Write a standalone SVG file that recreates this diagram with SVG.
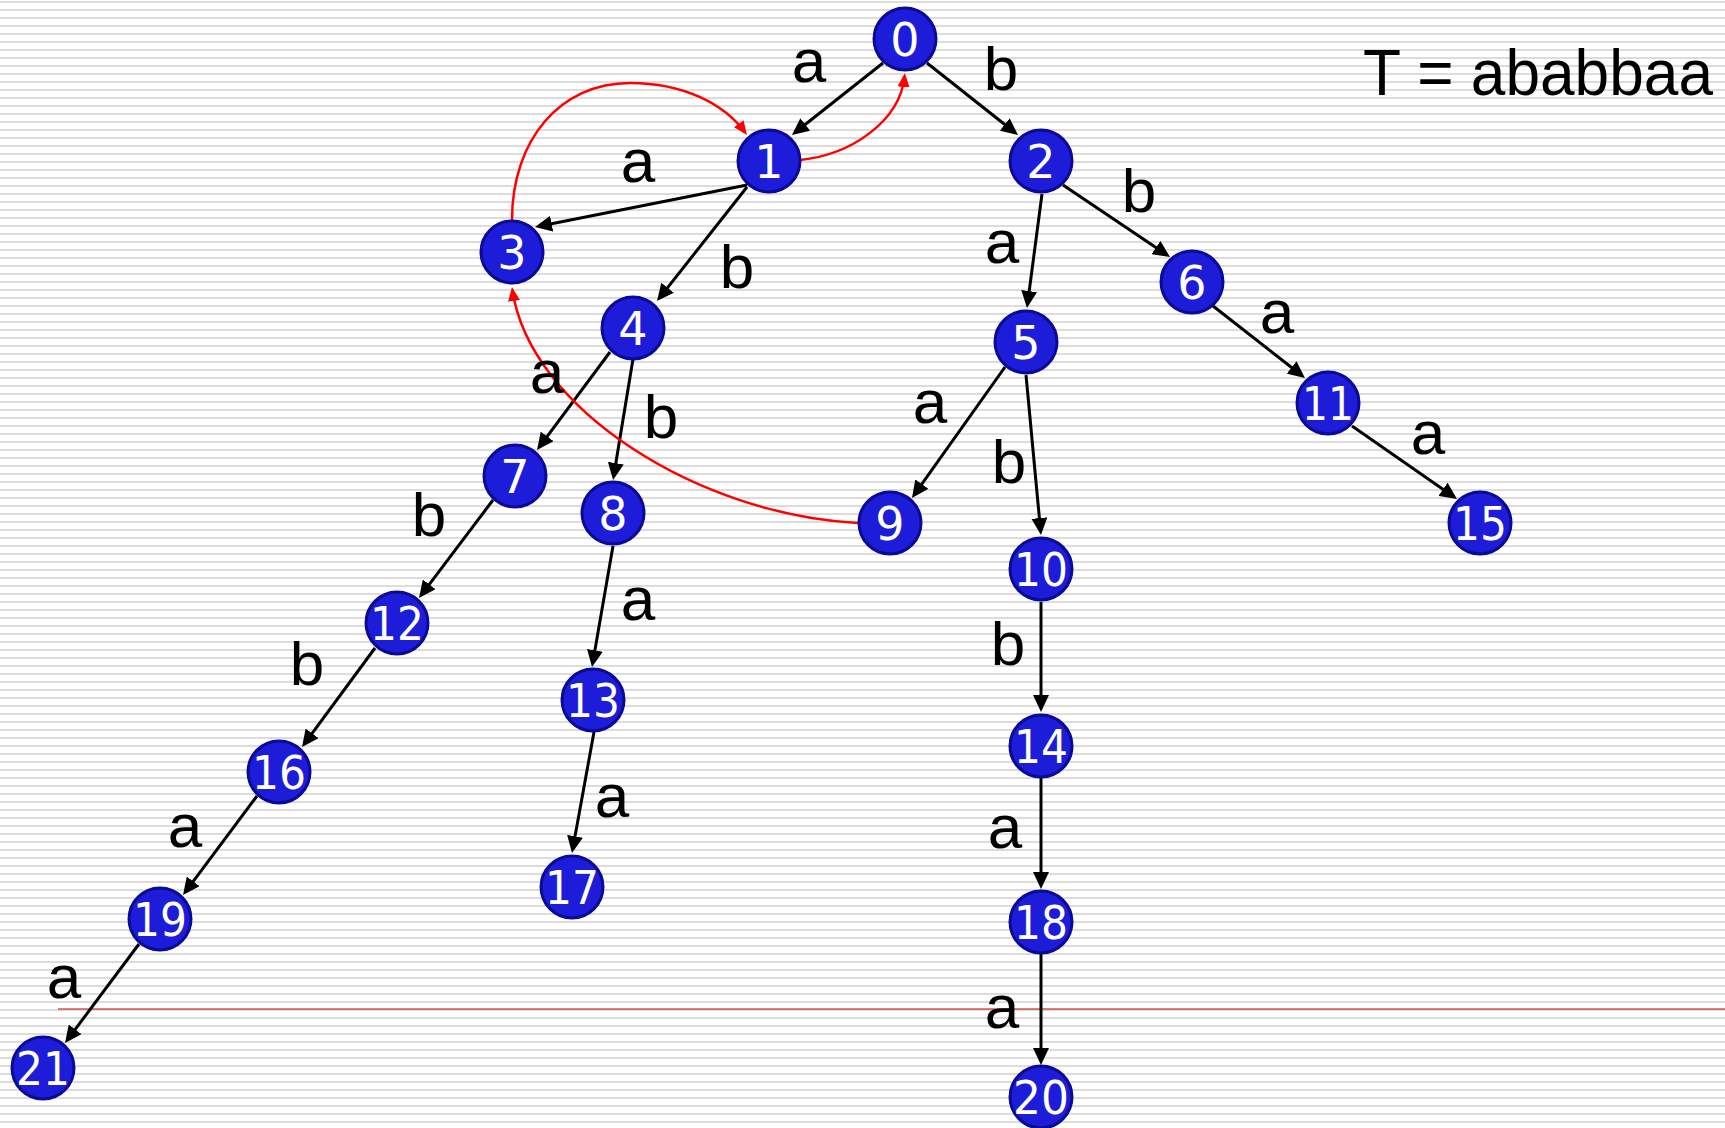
<svg xmlns="http://www.w3.org/2000/svg" width="1725" height="1128" viewBox="0 0 1725 1128">
<style>
.node circle{fill:#1c1cd9;stroke:#0a0a96;stroke-width:3}
.node text{font-family:"DejaVu Sans",Verdana,sans-serif;font-size:46px;fill:#fff;text-anchor:middle}
.e{stroke:#000;stroke-width:3;fill:none;marker-end:url(#ab)}
.r{stroke:#f00;stroke-width:2.5;fill:none;marker-end:url(#ar)}
.lbl{font-family:"Liberation Sans",Arial,sans-serif;font-size:62px;fill:#000;text-anchor:middle}
</style>
<defs>
<pattern id="bg" width="8" height="8" patternUnits="userSpaceOnUse"><rect y="1" width="8" height="2" fill="#dcdcdc"/></pattern>
<marker id="ab" markerUnits="userSpaceOnUse" markerWidth="18" markerHeight="16" refX="13" refY="8" orient="auto"><path d="M0,0 L17,8 L0,16 z" fill="#000"/></marker>
<marker id="ar" markerUnits="userSpaceOnUse" markerWidth="15" markerHeight="13" refX="11" refY="6" orient="auto"><path d="M0,0 L14,6 L0,12 z" fill="#f00"/></marker>
</defs>
<rect width="1725" height="1128" fill="#fff"/>
<rect width="1725" height="1128" fill="url(#bg)"/>
<line x1="58" y1="1009" x2="1725" y2="1009" stroke="#c00000" stroke-width="1.2"/>

<g id="connectors">
<line class="e" x1="883" y1="63" x2="795.1" y2="132.5"/>
<line class="e" x1="927" y1="63" x2="1014.9" y2="132.5"/>
<line class="e" x1="747" y1="185" x2="538.9" y2="226.2"/>
<line class="e" x1="747" y1="187" x2="659.5" y2="297.9"/>
<line class="e" x1="1042" y1="194" x2="1027.5" y2="304"/>
<line class="e" x1="1063" y1="185" x2="1166.7" y2="254.8"/>
<line class="e" x1="1213" y1="306" x2="1301.8" y2="375.5"/>
<line class="e" x1="1352" y1="426" x2="1453.7" y2="496.7"/>
<line class="e" x1="1005" y1="367" x2="914.3" y2="494.7"/>
<line class="e" x1="1026" y1="375" x2="1040.6" y2="531"/>
<line class="e" x1="610" y1="352" x2="539.4" y2="446.8"/>
<line class="e" x1="633" y1="359" x2="613.7" y2="476"/>
<line class="e" x1="493" y1="500" x2="421.4" y2="594.8"/>
<line class="e" x1="613" y1="546" x2="592.7" y2="663.1"/>
<line class="e" x1="375" y1="648" x2="304.4" y2="743.8"/>
<line class="e" x1="257" y1="796" x2="185.4" y2="891.8"/>
<line class="e" x1="139" y1="944" x2="67.4" y2="1039.8"/>
<line class="e" x1="594" y1="732" x2="572.7" y2="849.1"/>
<line class="e" x1="1041" y1="602" x2="1041" y2="708"/>
<line class="e" x1="1041" y1="778" x2="1041" y2="885"/>
<line class="e" x1="1041" y1="954" x2="1041" y2="1061"/>
<path class="r" d="M800,160 C850,155 900,122 904.6,76"/>
<path class="r" d="M512,220 C512,140 560,83 630,83 C685,83 725,105 745.2,132.6"/>
<path class="r" d="M858,523 C700,515 530,410 512.4,290"/>
</g>

<g id="labels">
<text class="lbl" x="809" y="82">a</text>
<text class="lbl" x="1001" y="90">b</text>
<text class="lbl" x="638" y="182">a</text>
<text class="lbl" x="737" y="288">b</text>
<text class="lbl" x="1002" y="263">a</text>
<text class="lbl" x="1139" y="212">b</text>
<text class="lbl" x="1277" y="333">a</text>
<text class="lbl" x="1009" y="483">b</text>
<text class="lbl" x="1428" y="454">a</text>
<text class="lbl" x="547" y="393">a</text>
<text class="lbl" x="661" y="438">b</text>
<text class="lbl" x="930" y="423">a</text>
<text class="lbl" x="429" y="536">b</text>
<text class="lbl" x="638" y="620">a</text>
<text class="lbl" x="307" y="685">b</text>
<text class="lbl" x="185" y="847">a</text>
<text class="lbl" x="64" y="998">a</text>
<text class="lbl" x="612" y="817">a</text>
<text class="lbl" x="1008" y="665">b</text>
<text class="lbl" x="1005" y="848">a</text>
<text class="lbl" x="1002" y="1028">a</text>
<text id="title" x="1363" y="95" font-family="'Liberation Sans',Arial,sans-serif" font-size="64" textLength="350" lengthAdjust="spacingAndGlyphs">T = ababbaa</text>
</g>

<g id="n0" class="node"><circle cx="905" cy="39" r="31"/><text x="905" y="56">0</text></g>
<g id="n1" class="node"><circle cx="769" cy="161" r="31"/><text x="769" y="178">1</text></g>
<g id="n2" class="node"><circle cx="1041" cy="161" r="31"/><text x="1041" y="178">2</text></g>
<g id="n3" class="node"><circle cx="512" cy="252" r="31"/><text x="512" y="269">3</text></g>
<g id="n4" class="node"><circle cx="633" cy="328" r="31"/><text x="633" y="345">4</text></g>
<g id="n5" class="node"><circle cx="1026" cy="342" r="31"/><text x="1026" y="359">5</text></g>
<g id="n6" class="node"><circle cx="1192" cy="282" r="31"/><text x="1192" y="299">6</text></g>
<g id="n7" class="node"><circle cx="515" cy="476" r="31"/><text x="515" y="493">7</text></g>
<g id="n8" class="node"><circle cx="613" cy="513" r="31"/><text x="613" y="530">8</text></g>
<g id="n9" class="node"><circle cx="890" cy="523" r="31"/><text x="890" y="540">9</text></g>
<g id="n10" class="node"><circle cx="1041" cy="569" r="31"/><text x="1041" y="586" textLength="54" lengthAdjust="spacingAndGlyphs">10</text></g>
<g id="n11" class="node"><circle cx="1328" cy="403" r="31"/><text x="1328" y="420" textLength="52" lengthAdjust="spacingAndGlyphs">11</text></g>
<g id="n12" class="node"><circle cx="397" cy="623" r="31"/><text x="397" y="640" textLength="54" lengthAdjust="spacingAndGlyphs">12</text></g>
<g id="n13" class="node"><circle cx="593" cy="700" r="31"/><text x="593" y="717" textLength="54" lengthAdjust="spacingAndGlyphs">13</text></g>
<g id="n14" class="node"><circle cx="1041" cy="746" r="31"/><text x="1041" y="763" textLength="54" lengthAdjust="spacingAndGlyphs">14</text></g>
<g id="n15" class="node"><circle cx="1480" cy="523" r="31"/><text x="1480" y="540" textLength="54" lengthAdjust="spacingAndGlyphs">15</text></g>
<g id="n16" class="node"><circle cx="279" cy="772" r="31"/><text x="279" y="789" textLength="54" lengthAdjust="spacingAndGlyphs">16</text></g>
<g id="n17" class="node"><circle cx="572" cy="887" r="31"/><text x="572" y="904" textLength="54" lengthAdjust="spacingAndGlyphs">17</text></g>
<g id="n18" class="node"><circle cx="1041" cy="922" r="31"/><text x="1041" y="939" textLength="54" lengthAdjust="spacingAndGlyphs">18</text></g>
<g id="n19" class="node"><circle cx="160" cy="919" r="31"/><text x="160" y="936" textLength="54" lengthAdjust="spacingAndGlyphs">19</text></g>
<g id="n20" class="node"><circle cx="1041" cy="1097" r="31"/><text x="1041" y="1114" textLength="56" lengthAdjust="spacingAndGlyphs">20</text></g>
<g id="n21" class="node"><circle cx="43" cy="1068" r="31"/><text x="43" y="1085" textLength="54" lengthAdjust="spacingAndGlyphs">21</text></g>
</svg>
